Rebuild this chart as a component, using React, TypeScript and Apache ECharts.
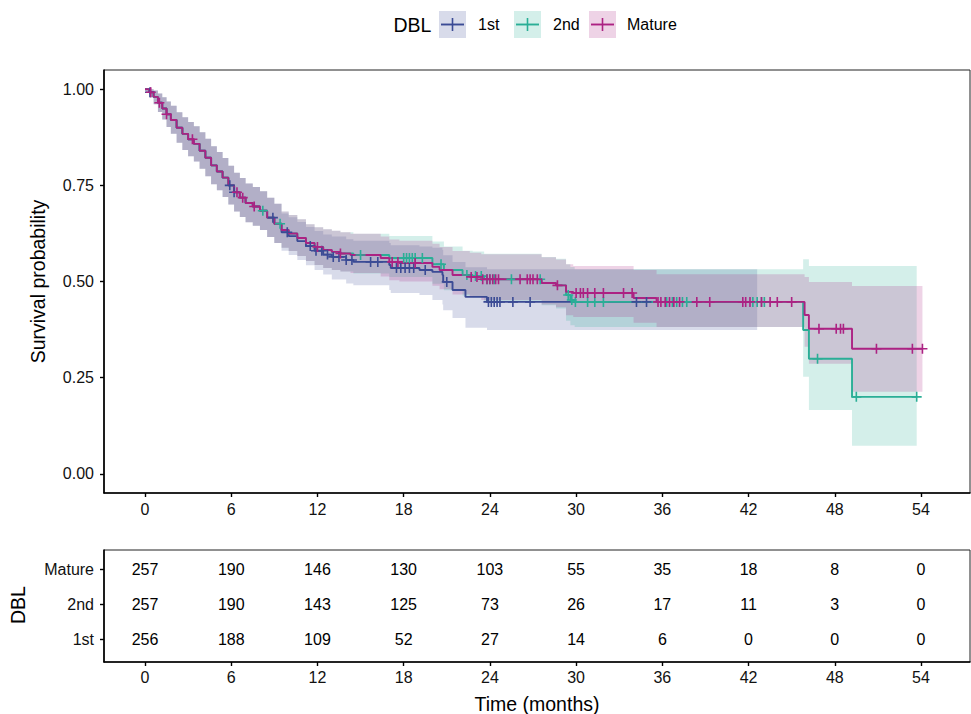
import React, { useEffect, useRef } from "react";
import * as echarts from "echarts";

const FONT = '"Liberation Sans", Arial, Helvetica, sans-serif';

const GROUPS = ["1st", "2nd", "Mature"];
const LINE_COLORS = ["#3B4B95", "#2AAE96", "#AC2283"];
const BAND_COLORS = ["rgba(59,75,149,0.2)", "rgba(42,174,150,0.2)", "rgba(172,34,131,0.2)"];

// Shared early part of all curves (months, survival, upper CI, lower CI)
const EARLY_T = [0, 0.3, 0.6, 0.9, 1.2, 1.5, 1.8, 2.2, 2.6, 3.0, 3.4, 3.8, 4.2, 4.6, 5.0, 5.4, 5.8, 6.2, 6.6, 7.0, 7.5, 8.0, 8.5, 9.0];
const EARLY_S = [1, 0.992, 0.98, 0.965, 0.95, 0.935, 0.92, 0.9, 0.884, 0.87, 0.858, 0.84, 0.822, 0.802, 0.786, 0.77, 0.75, 0.732, 0.718, 0.704, 0.695, 0.684, 0.666, 0.65];
const EARLY_U = [1, 1, 0.997, 0.989, 0.979, 0.968, 0.957, 0.94, 0.927, 0.915, 0.904, 0.888, 0.871, 0.852, 0.837, 0.821, 0.801, 0.783, 0.769, 0.755, 0.746, 0.735, 0.718, 0.702];
const EARLY_L = [1, 0.979, 0.961, 0.941, 0.921, 0.902, 0.884, 0.861, 0.842, 0.826, 0.812, 0.793, 0.774, 0.753, 0.737, 0.72, 0.7, 0.682, 0.668, 0.654, 0.645, 0.634, 0.616, 0.6];

// 1st
const FIRST_T = [9.5, 10.0, 10.6, 11.2, 11.8, 12.4, 13.0, 14.0, 14.5, 17.0, 17.1, 19.1, 20.0, 20.7, 20.75, 21.4, 22.3, 23.8];
const FIRST_S = [0.628, 0.618, 0.605, 0.592, 0.58, 0.57, 0.564, 0.556, 0.551, 0.543, 0.535, 0.53, 0.525, 0.517, 0.499, 0.478, 0.46, 0.447];
const FIRST_U = [0.677, 0.667, 0.655, 0.642, 0.631, 0.622, 0.617, 0.61, 0.606, 0.6, 0.594, 0.591, 0.588, 0.582, 0.568, 0.551, 0.537, 0.532];
const FIRST_L = [0.58, 0.569, 0.556, 0.542, 0.53, 0.518, 0.505, 0.495, 0.49, 0.478, 0.47, 0.465, 0.452, 0.44, 0.425, 0.405, 0.38, 0.374];
const FIRST_END = 42.6;
const FIRST_CENSOR = [0.35, 5.9, 6.2, 8.9, 9.9, 11.5, 11.9, 12.3, 12.7, 13.1, 13.5, 14.0, 14.4, 15.7, 16.2, 17.5, 17.8, 18.1, 18.4, 18.7, 19.5, 21.0, 23.9, 24.1, 24.3, 24.5, 24.7, 25.6, 26.8, 34.2, 34.9];

// 2nd
const SECOND_T = [9.5, 10.0, 10.6, 11.2, 11.8, 12.4, 13.0, 13.6, 14.5, 17.0, 20.0, 20.8, 22.1, 22.8, 23.6, 27.6, 28.6, 29.3, 29.6, 29.9, 45.8, 46.2, 49.2];
const SECOND_S = [0.634, 0.625, 0.613, 0.6, 0.59, 0.582, 0.577, 0.573, 0.569, 0.561, 0.545, 0.53, 0.517, 0.514, 0.506, 0.496, 0.49, 0.465, 0.452, 0.447, 0.374, 0.299, 0.2];
const SECOND_U = [0.682, 0.673, 0.662, 0.649, 0.641, 0.636, 0.632, 0.628, 0.624, 0.618, 0.604, 0.591, 0.58, 0.578, 0.572, 0.564, 0.559, 0.545, 0.538, 0.532, 0.558, 0.54, 0.54];
const SECOND_L = [0.588, 0.579, 0.566, 0.553, 0.543, 0.535, 0.53, 0.526, 0.521, 0.512, 0.494, 0.477, 0.463, 0.459, 0.45, 0.438, 0.43, 0.398, 0.386, 0.382, 0.252, 0.166, 0.073];
const SECOND_END = 53.7;
const SECOND_CENSOR = [8.2, 9.4, 15.0, 18.0, 18.2, 18.4, 18.6, 18.8, 19.3, 20.6, 22.4, 23.0, 23.4, 23.8, 24.0, 24.3, 25.5, 27.5, 29.45, 29.7, 29.95, 30.8, 31.3, 31.9, 36.3, 36.7, 37.0, 37.4, 37.7, 42.3, 42.6, 42.9, 43.1, 46.8, 49.5, 53.7];

// Mature
const MATURE_T = [9.5, 10.0, 10.6, 11.2, 11.8, 12.4, 13.0, 13.6, 14.3, 16.4, 17.0, 17.7, 20.0, 20.5, 21.4, 22.6, 23.4, 27.6, 28.6, 29.3, 29.8, 34.0, 35.6, 45.9, 46.2, 49.2];
const MATURE_S = [0.634, 0.625, 0.613, 0.6, 0.59, 0.582, 0.577, 0.573, 0.569, 0.561, 0.551, 0.548, 0.538, 0.53, 0.517, 0.512, 0.506, 0.496, 0.49, 0.473, 0.47, 0.457, 0.447, 0.413, 0.377, 0.325];
const MATURE_U = [0.682, 0.673, 0.662, 0.649, 0.641, 0.636, 0.632, 0.628, 0.624, 0.617, 0.609, 0.606, 0.598, 0.59, 0.579, 0.575, 0.571, 0.563, 0.557, 0.545, 0.54, 0.53, 0.519, 0.512, 0.499, 0.488];
const MATURE_L = [0.588, 0.579, 0.566, 0.553, 0.543, 0.535, 0.53, 0.526, 0.522, 0.513, 0.503, 0.5, 0.489, 0.48, 0.466, 0.46, 0.452, 0.44, 0.433, 0.412, 0.408, 0.393, 0.382, 0.33, 0.286, 0.213];
const MATURE_END = 54.1;
const MATURE_CENSOR = [0.4, 1.0, 1.5, 3.3, 6.4, 6.8, 7.6, 12.0, 13.6, 17.2, 17.6, 18.8, 22.7, 23.1, 23.5, 23.8, 24.0, 24.2, 24.4, 24.6, 26.1, 26.6, 26.8, 27.0, 27.3, 28.7, 30.0, 30.3, 30.5, 30.8, 31.3, 31.9, 33.3, 33.9, 35.7, 35.9, 36.2, 36.5, 36.8, 37.2, 38.4, 39.3, 41.6, 41.8, 42.1, 42.9, 43.5, 44.0, 45.0, 46.9, 48.1, 48.4, 48.6, 50.9, 53.4, 54.1];

// Risk table
const RISK_TIMES = [0, 6, 12, 18, 24, 30, 36, 42, 48, 54];
const RISK_FIRST = [256, 188, 109, 52, 27, 14, 6, 0, 0, 0];
const RISK_SECOND = [257, 190, 143, 125, 73, 26, 17, 11, 3, 0];
const RISK_MATURE = [257, 190, 146, 130, 103, 55, 35, 18, 8, 0];

const Y_TICKS = [0, 0.25, 0.5, 0.75, 1];

const X_MIN = -2.853;
const X_MAX = 57.41;

function buildCurve(tail_t: number[], tail_s: number[], tail_u: number[], tail_l: number[], end: number, censor: number[]) {
  const t = EARLY_T.concat(tail_t);
  const s = EARLY_S.concat(tail_s);
  const u = EARLY_U.concat(tail_u);
  const l = EARLY_L.concat(tail_l);
  const survAt = (x: number) => {
    let v = s[0];
    for (let i = 0; i < t.length; i++) if (t[i] <= x) v = s[i];
    return v;
  };
  return {
    t, s, u, l, end,
    line: t.map((x, i) => [x, s[i]]).concat([[end, s[s.length - 1]]]),
    censor: censor.map((x) => [x, survAt(x)]),
  };
}

export default function App() {
  const ref = useRef<HTMLDivElement>(null);
  useEffect(() => {
    if (!ref.current) return;
    const chart = echarts.init(ref.current, undefined, { renderer: "svg" });
    const curves = [
      buildCurve(FIRST_T, FIRST_S, FIRST_U, FIRST_L, FIRST_END, FIRST_CENSOR),
      buildCurve(SECOND_T, SECOND_S, SECOND_U, SECOND_L, SECOND_END, SECOND_CENSOR),
      buildCurve(MATURE_T, MATURE_S, MATURE_U, MATURE_L, MATURE_END, MATURE_CENSOR),
    ];
    const risks = [RISK_FIRST, RISK_SECOND, RISK_MATURE];
    const plus = "path://M4.2,0H5.8V10H4.2Z M0,4.2H10V5.8H0Z";

    const bandSeries = curves.map((c, gi) => ({
      type: "custom",
      name: GROUPS[gi] + " CI",
      xAxisIndex: 0,
      yAxisIndex: 0,
      data: [[c.t[0], c.s[0]]],
      clip: true,
      silent: true,
      z: 1,
      renderItem: (_p: any, api: any) => {
        const pts: number[][] = [];
        const n = c.t.length;
        for (let i = 0; i < n; i++) {
          const t1 = i + 1 < n ? c.t[i + 1] : c.end;
          pts.push(api.coord([c.t[i], c.u[i]]), api.coord([t1, c.u[i]]));
        }
        for (let i = n - 1; i >= 0; i--) {
          const t1 = i + 1 < n ? c.t[i + 1] : c.end;
          pts.push(api.coord([t1, c.l[i]]), api.coord([c.t[i], c.l[i]]));
        }
        return { type: "polygon", shape: { points: pts }, style: { fill: BAND_COLORS[gi], stroke: "none" } };
      },
    }));

    const lineSeries = curves.map((c, gi) => ({
      type: "line",
      name: GROUPS[gi],
      xAxisIndex: 0,
      yAxisIndex: 0,
      step: "end",
      data: c.line,
      showSymbol: false,
      symbol: "none",
      z: 3,
      lineStyle: { color: LINE_COLORS[gi], width: 1.9 },
      silent: true,
    }));

    const censorSeries = curves.map((c, gi) => ({
      type: "scatter",
      name: GROUPS[gi] + " censor",
      xAxisIndex: 0,
      yAxisIndex: 0,
      data: c.censor,
      symbol: plus,
      symbolSize: 10,
      z: 4,
      itemStyle: { color: LINE_COLORS[gi], opacity: 1 },
      silent: true,
    }));

    const riskData: number[][] = [];
    risks.forEach((arr, gi) => arr.forEach((n, i) => riskData.push([RISK_TIMES[i], gi + 1, n])));

    const riskSeries = {
      type: "custom",
      xAxisIndex: 1,
      yAxisIndex: 1,
      data: riskData,
      silent: true,
      renderItem: (_p: any, api: any) => {
        const p = api.coord([api.value(0), api.value(1)]);
        return {
          type: "text",
          x: p[0],
          y: p[1],
          style: {
            text: String(api.value(2)),
            fill: "#000",
            fontSize: 16,
            fontFamily: FONT,
            align: "center",
            verticalAlign: "middle",
          },
        };
      },
    };

    const axisLine = { show: true, onZero: false, lineStyle: { color: "#000", width: 1.6 } };
    const axisTick = { show: true, length: 4, lineStyle: { color: "#000", width: 1.4 } };
    const labelStyle = { color: "#111", fontSize: 16, fontFamily: FONT };

    const legendItems: any[] = [];
    const keyX = [439, 514, 589];
    const labX = [478, 553, 627];
    GROUPS.forEach((g, i) => {
      legendItems.push(
        { type: "rect", shape: { x: keyX[i], y: 11, width: 27, height: 27 }, style: { fill: BAND_COLORS[i] } },
        { type: "line", shape: { x1: keyX[i] + 2, y1: 24.5, x2: keyX[i] + 25, y2: 24.5 }, style: { stroke: LINE_COLORS[i], lineWidth: 1.9 } },
        { type: "line", shape: { x1: keyX[i] + 13.5, y1: 18, x2: keyX[i] + 13.5, y2: 31 }, style: { stroke: LINE_COLORS[i], lineWidth: 1.6 } },
        { type: "text", x: labX[i], y: 24.5, style: { text: g, fill: "#000", fontSize: 16, fontFamily: FONT, align: "left", verticalAlign: "middle" } }
      );
    });

    chart.setOption({
      animation: false,
      backgroundColor: "#fff",
      grid: [
        { left: 104, top: 70, width: 866, height: 423, show: true, borderColor: "#222", borderWidth: 1, backgroundColor: "transparent" },
        { left: 104, top: 550, width: 866, height: 112, show: true, borderColor: "#222", borderWidth: 1, backgroundColor: "transparent" },
      ],
      xAxis: [
        {
          type: "value", gridIndex: 0, min: X_MIN, max: X_MAX,
          axisLine, axisTick: { ...axisTick, customValues: RISK_TIMES },
          axisLabel: { ...labelStyle, margin: 8, customValues: RISK_TIMES, formatter: (v: number) => String(v) },
          splitLine: { show: false },
        },
        {
          type: "value", gridIndex: 1, min: X_MIN, max: X_MAX,
          axisLine, axisTick: { ...axisTick, customValues: RISK_TIMES },
          axisLabel: { ...labelStyle, margin: 7, customValues: RISK_TIMES, formatter: (v: number) => String(v) },
          splitLine: { show: false },
        },
      ],
      yAxis: [
        {
          type: "value", gridIndex: 0, min: -0.05, max: 1.05,
          axisLine, axisTick: { ...axisTick, customValues: Y_TICKS },
          axisLabel: { ...labelStyle, margin: 10, customValues: Y_TICKS, formatter: (v: number) => v.toFixed(2) },
          splitLine: { show: false },
        },
        {
          type: "value", gridIndex: 1, min: 0.343, max: 3.543,
          axisLine, axisTick: { ...axisTick, customValues: [1, 2, 3] },
          axisLabel: { ...labelStyle, margin: 10, customValues: [1, 2, 3], formatter: (v: number) => GROUPS[Math.round(v) - 1] },
          splitLine: { show: false },
        },
      ],
      graphic: [
        { type: "text", x: 38, y: 281.5, rotation: Math.PI / 2, style: { text: "Survival probability", fill: "#000", fontSize: 19.5, fontFamily: FONT, align: "center", verticalAlign: "middle" } },
        { type: "text", x: 537, y: 704, style: { text: "Time (months)", fill: "#000", fontSize: 19.5, fontFamily: FONT, align: "center", verticalAlign: "middle" } },
        { type: "text", x: 18, y: 605, rotation: Math.PI / 2, style: { text: "DBL", fill: "#000", fontSize: 19.5, fontFamily: FONT, align: "center", verticalAlign: "middle" } },
        { type: "text", x: 412.5, y: 24.5, style: { text: "DBL", fill: "#000", fontSize: 19.5, fontFamily: FONT, align: "center", verticalAlign: "middle" } },
        ...legendItems,
      ],
      series: [...bandSeries, ...lineSeries, ...censorSeries, riskSeries],
    });
    return () => chart.dispose();
  }, []);
  return <div ref={ref} style={{ position: "fixed", left: 0, top: 0, width: 971, height: 714 }} />;
}
